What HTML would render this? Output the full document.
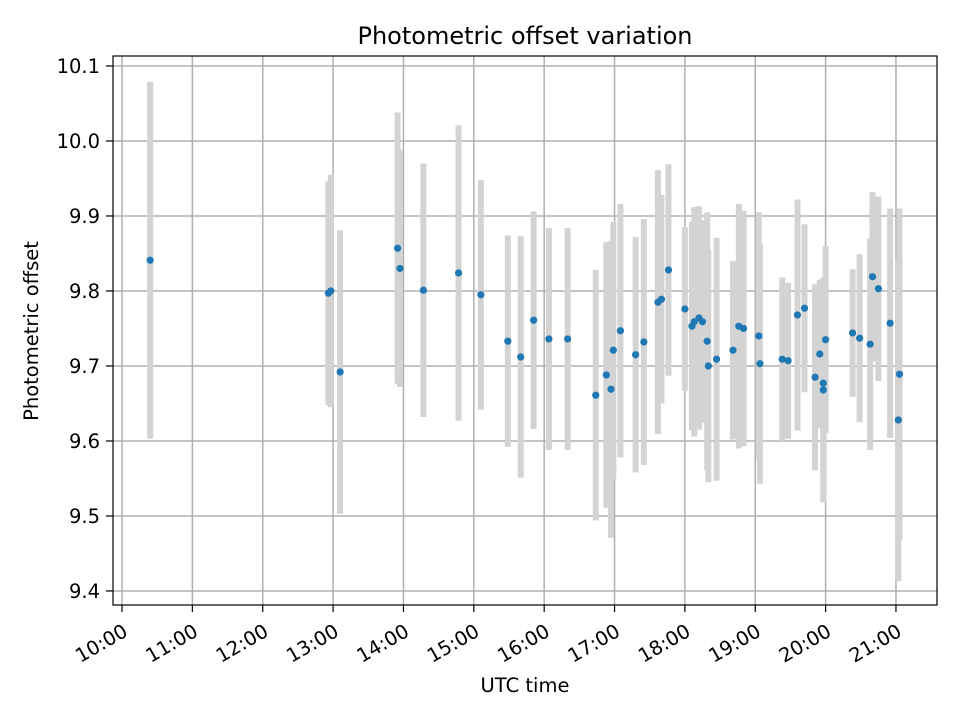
<!DOCTYPE html>
<html><head><meta charset="utf-8"><style>
html,body{margin:0;padding:0;background:#fff;}
svg{display:block;font-family:"DejaVu Sans","Liberation Sans",sans-serif;}
</style></head>
<body>
<svg id="chart" width="960" height="720" xmlns="http://www.w3.org/2000/svg">
<rect width="960" height="720" fill="#fff"/>
<text x="525" y="44" text-anchor="middle" font-size="24">Photometric offset variation</text>
<text x="525" y="692" text-anchor="middle" font-size="19.5">UTC time</text>
<text transform="translate(38,331) rotate(-90)" text-anchor="middle" font-size="19.5">Photometric offset</text>
<g id="grid"></g>
<g id="bars"></g>
<g id="points"></g>
<g id="axes"></g>
</svg>
<script>
const times = ["10:24","12:56","12:58","13:06","13:55","13:57","14:17","14:47","15:06","15:29","15:40","15:51","16:04","16:20","16:44","16:53","16:57","16:59","17:05","17:18","17:25","17:37","17:40","17:46","18:00","18:06","18:08","18:12","18:15","18:19","18:20","18:27","18:41","18:46","18:50","19:03","19:04","19:23","19:28","19:36","19:42","19:51","19:55","19:58","19:58","20:00","20:23","20:29","20:38","20:40","20:45","20:55","21:03","21:02"];
const offsets = [9.841,9.797,9.800,9.692,9.857,9.830,9.801,9.824,9.795,9.733,9.712,9.761,9.736,9.736,9.661,9.688,9.669,9.721,9.747,9.715,9.732,9.785,9.789,9.828,9.776,9.753,9.759,9.764,9.759,9.733,9.700,9.709,9.721,9.753,9.750,9.740,9.703,9.709,9.707,9.768,9.777,9.685,9.716,9.677,9.668,9.735,9.744,9.737,9.729,9.819,9.803,9.757,9.689,9.628];
const errors = [0.238,0.149,0.155,0.189,0.181,0.158,0.169,0.197,0.153,0.141,0.161,0.145,0.148,0.148,0.167,0.177,0.198,0.171,0.169,0.157,0.164,0.176,0.139,0.141,0.109,0.139,0.153,0.149,0.135,0.172,0.155,0.162,0.119,0.163,0.157,0.165,0.160,0.109,0.104,0.154,0.112,0.124,0.099,0.120,0.150,0.125,0.085,0.112,0.141,0.113,0.123,0.153,0.221,0.215];
const xTickLabels = ["10:00","11:00","12:00","13:00","14:00","15:00","16:00","17:00","18:00","19:00","20:00","21:00"];
const yTickLabels = ["9.4","9.5","9.6","9.7","9.8","9.9","10.0","10.1"];

const L=113,R=937,T=56,B=605;
const xMin=9.872,xMax=21.583,yMin=9.3813,yMax=10.1133;
const hrs=s=>{const p=s.split(':');return +p[0]+ +p[1]/60;};
const X=h=>L+(h-xMin)/(xMax-xMin)*(R-L);
const Y=v=>B-(v-yMin)/(yMax-yMin)*(B-T);
const NS="http://www.w3.org/2000/svg";
function mk(tag,parent,attrs){const e=document.createElementNS(NS,tag);for(const k in attrs)e.setAttribute(k,attrs[k]);parent.appendChild(e);return e;}
const grid=document.getElementById('grid'),bars=document.getElementById('bars'),pts=document.getElementById('points'),axes=document.getElementById('axes');

xTickLabels.forEach(lab=>{
  const x=X(hrs(lab));
  const g=mk('line',grid,{x1:x,x2:x,y1:T,y2:B,stroke:'#b0b0b0','stroke-width':1.5});
  
  
  const t=mk('line',axes,{x1:x,x2:x,y1:B,y2:B+7,stroke:'#000','stroke-width':1.2});
  
  
  const tx=mk('text',axes,{transform:`translate(${x+7},${B+30}) rotate(-30)`,'text-anchor':'end','font-size':19.5});
  tx.textContent=lab;
  
  
});
yTickLabels.forEach(lab=>{
  const y=Y(+lab);
  const g=mk('line',grid,{x1:L,x2:R,y1:y,y2:y,stroke:'#b0b0b0','stroke-width':1.5});
  
  
  const t=mk('line',axes,{x1:L-7,x2:L,y1:y,y2:y,stroke:'#000','stroke-width':1.2});
  
  
  const tx=mk('text',axes,{x:L-13,y:y+7,'text-anchor':'end','font-size':19.5});
  tx.textContent=lab;
  
  
});
times.forEach((s,i)=>{
  const x=X(hrs(s));
  const b=mk('rect',bars,{x:x-3,width:6,y:Y(offsets[i]+errors[i]),height:Y(offsets[i]-errors[i])-Y(offsets[i]+errors[i]),fill:'#d3d3d3'});
  
  
});
times.forEach((s,i)=>{
  const c=mk('circle',pts,{cx:X(hrs(s)),cy:Y(offsets[i]),r:3.6,fill:'#1f77b4'});
  
  
});
const fr=mk('rect',axes,{x:L,y:T,width:R-L,height:B-T,fill:'none',stroke:'#000','stroke-width':1.2});


</script>
</body></html>
